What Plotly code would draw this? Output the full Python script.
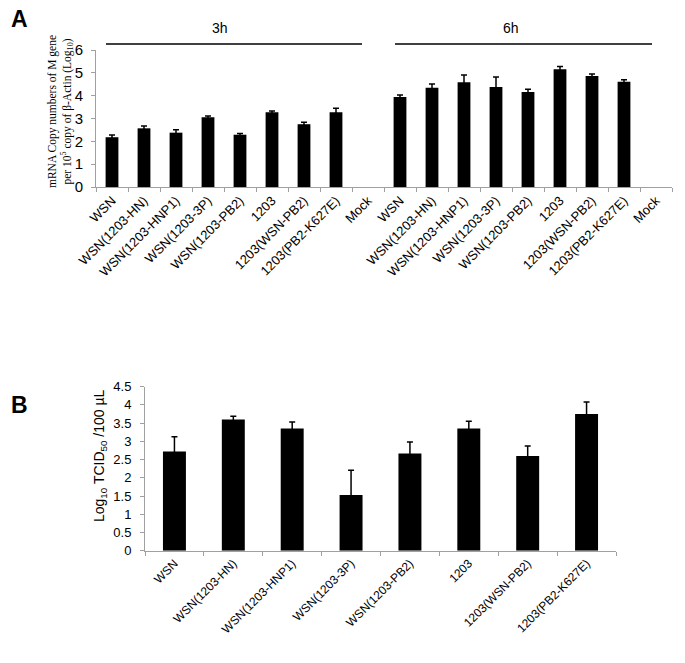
import plotly.graph_objects as go

# ---------------- data ----------------
strains = ["WSN", "WSN(1203-HN)", "WSN(1203-HNP1)", "WSN(1203-3P)", "WSN(1203-PB2)",
           "1203", "1203(WSN-PB2)", "1203(PB2-K627E)", "Mock"]
a_labels = strains + strains
a_3h = [2.18, 2.57, 2.38, 3.05, 2.29, 3.27, 2.75, 3.27, None]   # Mock: no bar
a_3h_err = [0.10, 0.10, 0.13, 0.06, 0.05, 0.06, 0.09, 0.18, None]
a_6h = [3.94, 4.35, 4.59, 4.38, 4.16, 5.16, 4.86, 4.61, None]   # Mock: no bar
a_6h_err = [0.09, 0.16, 0.32, 0.44, 0.12, 0.12, 0.09, 0.09, None]
a_values = a_3h + a_6h
a_errors = a_3h_err + a_6h_err
a_pos = list(range(len(a_labels)))

b_labels = strains[:8]
b_values = [2.72, 3.60, 3.35, 1.53, 2.67, 3.35, 2.60, 3.75]
b_errors = [0.41, 0.09, 0.18, 0.68, 0.31, 0.20, 0.27, 0.33]

W, H = 685, 663
def px(x): return x / W
def py(y): return 1 - y / H

AX = "#a0a0a0"
fig = go.Figure()

fig.add_trace(go.Bar(
    x=a_pos, y=a_values, width=0.4, marker=dict(color="black", line=dict(width=0)),
    error_y=dict(type="data", array=a_errors, symmetric=True, color="black", thickness=1.5, width=3),
    xaxis="x", yaxis="y", showlegend=False))

fig.add_trace(go.Bar(
    x=b_labels, y=b_values, width=0.39, marker=dict(color="black", line=dict(width=0)),
    error_y=dict(type="data", array=b_errors, symmetric=True, color="black", thickness=1.5, width=3),
    xaxis="x2", yaxis="y2", showlegend=False))

fig.update_layout(
    template="none",
    width=W, height=H, margin=dict(l=0, r=0, t=0, b=0, autoexpand=False),
    plot_bgcolor="white", paper_bgcolor="white",
    font=dict(family="Liberation Sans, Arial", color="black"),
    xaxis=dict(domain=[px(96), px(672)], anchor="y", range=[-0.5, 17.5], automargin=False,
               tickmode="array", tickvals=a_pos, ticktext=a_labels, ticks="",
               tickangle=-45, tickfont=dict(size=13), showline=True, linecolor=AX,
               showgrid=False, zeroline=False,
               minor=dict(ticks="outside", tickmode="linear", tick0=-0.5, dtick=1,
                          ticklen=4, tickcolor=AX, showgrid=False)),
    yaxis=dict(domain=[py(187), py(50)], anchor="x", range=[0, 6], dtick=1, automargin=False,
               ticks="outside", ticklen=4, tickcolor=AX, showline=True, linecolor=AX,
               showgrid=False, zeroline=False, tickfont=dict(size=15), ticklabelstandoff=5),
    xaxis2=dict(domain=[px(145), px(616)], anchor="y2", type="category", automargin=False,
                tickson="boundaries", ticks="outside", ticklen=4, tickcolor=AX,
                tickangle=-45, tickfont=dict(size=12), showline=True, linecolor=AX,
                showgrid=False, zeroline=False),
    yaxis2=dict(domain=[py(550.7), py(386.7)], anchor="x2", range=[0, 4.5], dtick=0.5,
                automargin=False,
                ticks="outside", ticklen=4, tickcolor=AX, showline=True, linecolor=AX,
                showgrid=False, zeroline=False, tickfont=dict(size=13), ticklabelstandoff=6),
    bargap=0.6,
)

ann = [
    dict(text="<b>A</b>", x=px(9), y=py(19), font=dict(size=23)),
    dict(text="<b>B</b>", x=px(9), y=py(405), font=dict(size=23)),
    dict(text="3h", x=px(220), y=py(28), font=dict(size=14)),
    dict(text="6h", x=px(511), y=py(28), font=dict(size=14)),
    dict(text="mRNA Copy numbers of M gene<br>per 10<sup>5</sup> copy of β-Actin (Log<sub>10</sub>)",
         x=px(60), y=py(112), textangle=-90, font=dict(size=11.5, family="Liberation Serif, Times New Roman")),
    dict(text="Log<sub>10</sub> TCID<sub>50</sub> /100 µL", x=px(100), y=py(455), textangle=-90,
         font=dict(size=14)),
]
for a in ann:
    xa = "left" if a["text"].startswith("<b>") else "center"
    fig.add_annotation(xref="paper", yref="paper", showarrow=False, xanchor=xa, yanchor="middle", **a)

for x0, x1 in [(106, 362), (395, 652)]:
    fig.add_shape(type="line", xref="paper", yref="paper", x0=px(x0), x1=px(x1), y0=py(44), y1=py(44),
                  line=dict(color="black", width=1.5))

fig.write_html("out.html", config={"displayModeBar": False},
               post_script="document.body.style.margin='0';document.body.style.overflow='hidden';")
